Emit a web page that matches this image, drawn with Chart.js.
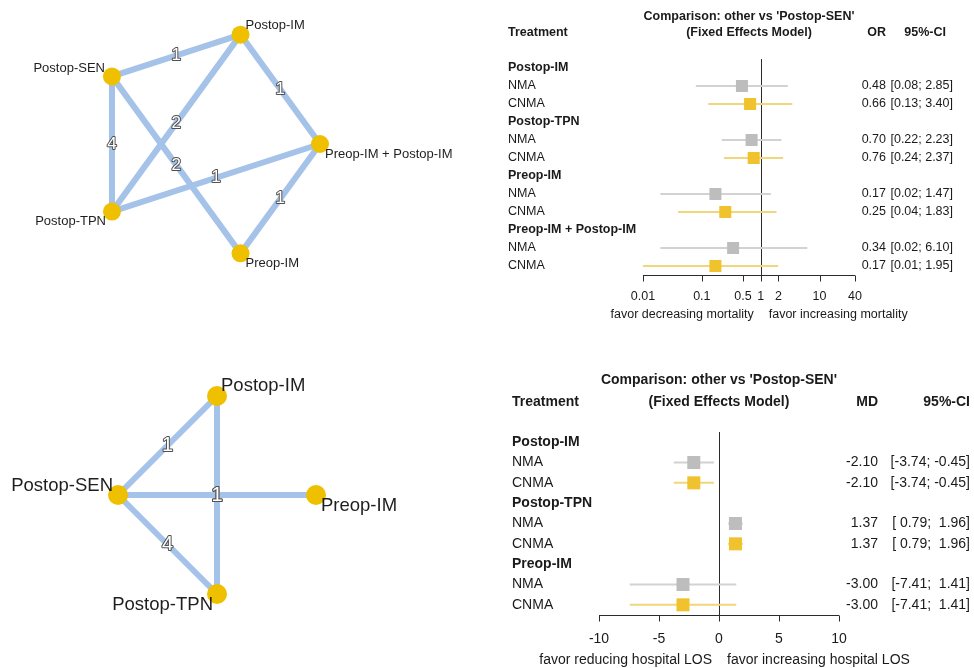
<!DOCTYPE html>
<html>
<head>
<meta charset="utf-8">
<title>Network graphs and forest plots</title>
<script src="https://cdn.jsdelivr.net/npm/chart.js@4.4.1/dist/chart.umd.min.js"></script>
<style>
    html, body { margin: 0; padding: 0; background: #fff; }
    #wrap { position: relative; width: 974px; height: 668px; overflow: hidden; }
    #wrap canvas { position: absolute; left: 0; top: 0; }
</style>
</head>
<body>
<div id="wrap">
    <canvas id="netTop" width="974" height="668"></canvas>
    <canvas id="netBottom" width="974" height="668"></canvas>
    <canvas id="forestTop" width="974" height="668"></canvas>
    <canvas id="forestBottom" width="974" height="668"></canvas>
</div>
<script>
// ---- network 1 (mortality): node layout on unit circle, edges, number of studies
var mortNodes = ['Postop-SEN', 'Postop-IM', 'Preop-IM + Postop-IM', 'Preop-IM', 'Postop-TPN'];
var mortNodeX = [-0.809, 0.309, 1.000, 0.309, -0.809];
var mortNodeY = [0.588, 0.951, 0.000, -0.951, -0.588];
var mortEdgeFrom = ['Postop-SEN', 'Postop-SEN', 'Postop-SEN', 'Postop-IM', 'Postop-IM', 'Postop-TPN', 'Preop-IM + Postop-IM'];
var mortEdgeTo = ['Postop-IM', 'Postop-TPN', 'Preop-IM', 'Postop-TPN', 'Preop-IM + Postop-IM', 'Preop-IM + Postop-IM', 'Preop-IM'];
var mortEdgeStudies = [1, 4, 2, 2, 1, 1, 1];

// ---- network 2 (hospital LOS)
var losNodes = ['Postop-SEN', 'Postop-IM', 'Preop-IM', 'Postop-TPN'];
var losNodeX = [-1, 0, 1, 0];
var losNodeY = [0, 1, 0, -1];
var losEdgeFrom = ['Postop-SEN', 'Postop-SEN', 'Postop-SEN', 'Postop-IM'];
var losEdgeTo = ['Postop-IM', 'Postop-TPN', 'Preop-IM', 'Postop-TPN'];
var losEdgeStudies = [1, 4, 1, 1];

// ---- forest 1: odds ratios for mortality vs Postop-SEN
var mortTreatments = ['Postop-IM', 'Postop-TPN', 'Preop-IM', 'Preop-IM + Postop-IM'];
var mortNmaOR = [0.48, 0.70, 0.17, 0.34];
var mortNmaLow = [0.08, 0.22, 0.02, 0.02];
var mortNmaHigh = [2.85, 2.23, 1.47, 6.10];
var mortCnmaOR = [0.66, 0.76, 0.25, 0.17];
var mortCnmaLow = [0.13, 0.24, 0.04, 0.01];
var mortCnmaHigh = [3.40, 2.37, 1.83, 1.95];
var mortTicks = [0.01, 0.1, 0.5, 1, 2, 10, 40];
var mortTickLabels = ['0.01', '0.1', '0.5', '1', '2', '10', '40'];

// ---- forest 2: mean differences for hospital LOS vs Postop-SEN
var losTreatments = ['Postop-IM', 'Postop-TPN', 'Preop-IM'];
var losNmaMD = [-2.10, 1.37, -3.00];
var losNmaLow = [-3.74, 0.79, -7.41];
var losNmaHigh = [-0.45, 1.96, 1.41];
var losCnmaMD = [-2.10, 1.37, -3.00];
var losCnmaLow = [-3.74, 0.79, -7.41];
var losCnmaHigh = [-0.45, 1.96, 1.41];
var losTicks = [-10, -5, 0, 5, 10];
var losTickLabels = ['-10', '-5', '0', '5', '10'];

var FONT = "'Liberation Sans', Arial, Helvetica, sans-serif";
var EDGE_BLUE = '#a5c2e8';
var NODE_GOLD = '#efc000';

function baseOptions(pad, xScale, yScale) {
    return {
        responsive : false,
        animation : false,
        devicePixelRatio : 1,
        layout : {padding : pad},
        scales : {x : xScale, y : yScale},
        plugins : {legend : {display : false}, tooltip : {enabled : false}}
    };
}

function networkChart(id, net, st) {
    var datasets = [];
    net.from.forEach(function (f, k) {
        var a = net.nodes.indexOf(f), b = net.nodes.indexOf(net.to[k]);
        datasets.push({
            type : 'line',
            data : [{x : net.x[a], y : net.y[a]}, {x : net.x[b], y : net.y[b]}],
            borderColor : EDGE_BLUE,
            borderWidth : st.edgeWidth,
            borderCapStyle : 'butt',
            pointRadius : 0,
            clip : false,
            order : 2
        });
    });
    datasets.push({
        type : 'scatter',
        data : net.nodes.map(function (n, i) { return {x : net.x[i], y : net.y[i]}; }),
        backgroundColor : NODE_GOLD,
        borderWidth : 0,
        pointRadius : st.nodeRadius,
        clip : false,
        order : 0
    });
    var labels = {
        id : 'netLabels',
        afterDatasetsDraw : function (chart) {
            var ctx = chart.ctx, xs = chart.scales.x, ys = chart.scales.y;
            ctx.save();
            ctx.textBaseline = 'middle';
            // number of studies on each edge
            ctx.font = st.numberFont;
            ctx.textAlign = 'center';
            ctx.lineJoin = 'round';
            net.from.forEach(function (f, k) {
                var a = net.nodes.indexOf(f), b = net.nodes.indexOf(net.to[k]);
                var px = xs.getPixelForValue((net.x[a] + net.x[b]) / 2);
                var py = ys.getPixelForValue((net.y[a] + net.y[b]) / 2);
                var txt = String(net.studies[k]);
                ctx.strokeStyle = '#505050';
                ctx.lineWidth = 2;
                ctx.strokeText(txt, px, py);
                ctx.fillStyle = '#ffffff';
                ctx.fillText(txt, px, py);
            });
            // treatment names next to the nodes
            ctx.font = st.labelFont;
            ctx.fillStyle = '#1e1e1e';
            net.nodes.forEach(function (n, i) {
                var pos = st.labelPos[n];
                ctx.textAlign = pos[2];
                ctx.fillText(n, xs.getPixelForValue(net.x[i]) + pos[0], ys.getPixelForValue(net.y[i]) + pos[1]);
            });
            ctx.restore();
        }
    };
    var opts = baseOptions(st.pad,
        {type : 'linear', min : -1, max : 1, display : false},
        {type : 'linear', min : -1, max : 1, display : false});
    return new Chart(document.getElementById(id), {type : 'scatter', data : {datasets : datasets}, options : opts, plugins : [labels]});
}

function fmt(v, pad) {
    var s = v.toFixed(2);
    return (pad && v >= 0) ? ' ' + s : s;
}

function forestChart(id, fd, st) {
    var rows = [], nmaPts = [], cnmaPts = [], nmaCI = [], cnmaCI = [];
    var all = fd.nmaLow.concat(fd.cnmaLow, fd.nma, fd.cnma);
    var pad = all.some(function (v) { return v < 0; });
    fd.treatments.forEach(function (t, i) {
        var r = 3 * i;
        rows.push({label : t, bold : true, y : r});
        rows.push({label : 'NMA', y : r + 1, est : fd.nma[i], lo : fd.nmaLow[i], hi : fd.nmaHigh[i]});
        rows.push({label : 'CNMA', y : r + 2, est : fd.cnma[i], lo : fd.cnmaLow[i], hi : fd.cnmaHigh[i]});
        nmaPts.push({x : fd.nma[i], y : r + 1});
        cnmaPts.push({x : fd.cnma[i], y : r + 2});
        nmaCI.push({x : [fd.nmaLow[i], fd.nmaHigh[i]], y : r + 1});
        cnmaCI.push({x : [fd.cnmaLow[i], fd.cnmaHigh[i]], y : r + 2});
    });
    var nRows = fd.treatments.length * 3;
    var datasets = [
        {type : 'bar', indexAxis : 'y', grouped : false, data : nmaCI, backgroundColor : '#d2d2d2', barThickness : 1.4, order : 3},
        {type : 'bar', indexAxis : 'y', grouped : false, data : cnmaCI, backgroundColor : '#f1d67c', barThickness : 1.4, order : 3},
        {type : 'scatter', data : nmaPts, pointStyle : 'rect', pointRadius : st.box, backgroundColor : '#bdbdbd', borderWidth : 0, order : 1},
        {type : 'scatter', data : cnmaPts, pointStyle : 'rect', pointRadius : st.box, backgroundColor : '#f0c22e', borderWidth : 0, order : 1}
    ];
    var deco = {
        id : 'forestDeco',
        beforeDatasetsDraw : function (chart) {
            var ctx = chart.ctx, a = chart.chartArea, xs = chart.scales.x;
            var rx = Math.round(xs.getPixelForValue(fd.ref)) + 0.5;
            ctx.save();
            ctx.strokeStyle = '#2b2b2b';
            ctx.lineWidth = 1;
            ctx.beginPath();
            ctx.moveTo(rx, a.top);
            ctx.lineTo(rx, a.bottom);
            ctx.stroke();
            ctx.restore();
        },
        afterDatasetsDraw : function (chart) {
            var ctx = chart.ctx, a = chart.chartArea, xs = chart.scales.x, ys = chart.scales.y;
            var f = st.fontSize + 'px ' + FONT, fb = 'bold ' + st.fontSize + 'px ' + FONT;
            var mid = (a.left + a.right) / 2;
            ctx.save();
            ctx.fillStyle = '#1a1a1a';
            ctx.textBaseline = 'middle';
            // headings
            ctx.font = fb;
            ctx.textAlign = 'center';
            ctx.fillText(fd.title, mid, st.titleY);
            ctx.fillText(fd.subtitle, mid, st.headY);
            ctx.textAlign = 'left';
            ctx.fillText('Treatment', st.labelX, st.headY);
            ctx.textAlign = 'right';
            ctx.fillText(fd.effect, st.estRight, st.headY);
            ctx.fillText('95%-CI', st.ciHeadRight, st.headY);
            // rows
            rows.forEach(function (r) {
                var py = ys.getPixelForValue(r.y);
                ctx.font = r.bold ? fb : f;
                ctx.textAlign = 'left';
                ctx.fillText(r.label, st.labelX, py);
                if (r.est !== undefined) {
                    ctx.textAlign = 'right';
                    ctx.fillText(r.est.toFixed(2), st.estRight, py);
                    ctx.fillText('[' + fmt(r.lo, pad) + '; ' + fmt(r.hi, pad) + ']', st.ciRight, py);
                }
            });
            // x axis
            var ay = Math.round(a.bottom) + 0.5;
            ctx.strokeStyle = '#2b2b2b';
            ctx.lineWidth = 1;
            ctx.beginPath();
            ctx.moveTo(xs.getPixelForValue(fd.ticks[0]), ay);
            ctx.lineTo(xs.getPixelForValue(fd.ticks[fd.ticks.length - 1]), ay);
            fd.ticks.forEach(function (t) {
                var tx = Math.round(xs.getPixelForValue(t)) + 0.5;
                ctx.moveTo(tx, ay);
                ctx.lineTo(tx, ay + 6);
            });
            ctx.stroke();
            ctx.font = f;
            ctx.textAlign = 'center';
            fd.ticks.forEach(function (t, k) {
                ctx.fillText(fd.tickLabels[k], xs.getPixelForValue(t), st.tickY);
            });
            var rx = xs.getPixelForValue(fd.ref);
            ctx.textAlign = 'right';
            ctx.fillText(fd.favorLeft, rx - 7, st.noteY);
            ctx.textAlign = 'left';
            ctx.fillText(fd.favorRight, rx + 8, st.noteY);
            ctx.restore();
        }
    };
    var opts = baseOptions(st.pad,
        {type : fd.logScale ? 'logarithmic' : 'linear', min : fd.ticks[0], max : fd.ticks[fd.ticks.length - 1], offset : false, display : false},
        {type : 'linear', min : -0.5, max : nRows - 0.5, reverse : true, offset : false, display : false});
    return new Chart(document.getElementById(id), {type : 'scatter', data : {datasets : datasets}, options : opts, plugins : [deco]});
}

networkChart('netTop', {
    nodes : mortNodes, x : mortNodeX, y : mortNodeY,
    from : mortEdgeFrom, to : mortEdgeTo, studies : mortEdgeStudies
}, {
    pad : {left : 90, right : 654, top : 29, bottom : 409},
    edgeWidth : 6, nodeRadius : 9,
    numberFont : '17px ' + FONT, labelFont : '13px ' + FONT,
    labelPos : {
        'Postop-SEN' : [-7, -8, 'right'],
        'Postop-IM' : [5, -9, 'left'],
        'Preop-IM + Postop-IM' : [5, 10, 'left'],
        'Preop-IM' : [5, 10, 'left'],
        'Postop-TPN' : [-6, 10, 'right']
    }
});

networkChart('netBottom', {
    nodes : losNodes, x : losNodeX, y : losNodeY,
    from : losEdgeFrom, to : losEdgeTo, studies : losEdgeStudies
}, {
    pad : {left : 118, right : 658, top : 396, bottom : 74},
    edgeWidth : 6, nodeRadius : 10,
    numberFont : '20px ' + FONT, labelFont : '18.5px ' + FONT,
    labelPos : {
        'Postop-SEN' : [-5, -9, 'right'],
        'Postop-IM' : [4, -10, 'left'],
        'Preop-IM' : [5, 11, 'left'],
        'Postop-TPN' : [-4, 11, 'right']
    }
});

forestChart('forestTop', {
    treatments : mortTreatments,
    nma : mortNmaOR, nmaLow : mortNmaLow, nmaHigh : mortNmaHigh,
    cnma : mortCnmaOR, cnmaLow : mortCnmaLow, cnmaHigh : mortCnmaHigh,
    ticks : mortTicks, tickLabels : mortTickLabels, logScale : true, ref : 1,
    title : "Comparison: other vs 'Postop-SEN'", subtitle : '(Fixed Effects Model)', effect : 'OR',
    favorLeft : 'favor decreasing mortality', favorRight : 'favor increasing mortality'
}, {
    pad : {left : 643, right : 119, top : 59, bottom : 393},
    fontSize : 12.5, box : 8.5,
    labelX : 508, estRight : 886, ciRight : 953, ciHeadRight : 946,
    titleY : 17, headY : 33, tickY : 297, noteY : 315
});

forestChart('forestBottom', {
    treatments : losTreatments,
    nma : losNmaMD, nmaLow : losNmaLow, nmaHigh : losNmaHigh,
    cnma : losCnmaMD, cnmaLow : losCnmaLow, cnmaHigh : losCnmaHigh,
    ticks : losTicks, tickLabels : losTickLabels, logScale : false, ref : 0,
    title : "Comparison: other vs 'Postop-SEN'", subtitle : '(Fixed Effects Model)', effect : 'MD',
    favorLeft : 'favor reducing hospital LOS', favorRight : 'favor increasing hospital LOS'
}, {
    pad : {left : 599, right : 135, top : 432, bottom : 53},
    fontSize : 14, box : 9.2,
    labelX : 512, estRight : 878, ciRight : 970, ciHeadRight : 970,
    titleY : 380, headY : 402, tickY : 639, noteY : 660
});
</script>
</body>
</html>
